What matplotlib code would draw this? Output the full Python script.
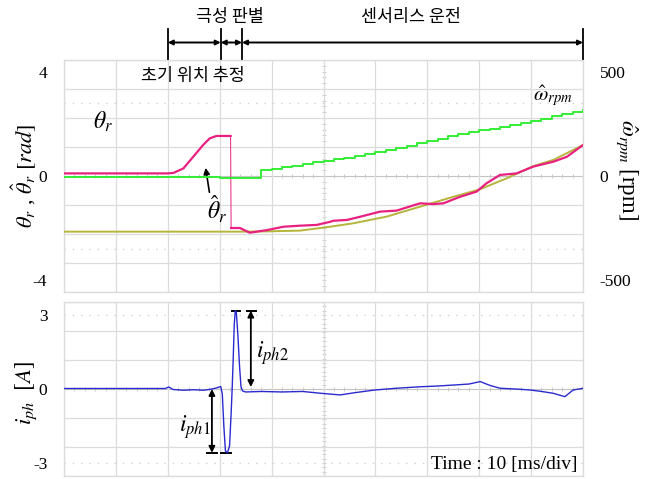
import matplotlib
matplotlib.use("Agg")
import matplotlib.pyplot as plt
import matplotlib.transforms as mtransforms
import numpy as np

plt.rcParams['font.family'] = ['Liberation Serif', 'DejaVu Serif']
plt.rcParams['mathtext.fontset'] = 'stix'

KFONT = ['Noto Sans CJK KR', 'DejaVu Sans']

# ---------------- data (time in ms, 10 ms/div) ----------------
t_theta_hat = [0, 20, 21.1, 23, 24.9, 26.8, 28.1, 29.4, 32.1, 32.2, 32.6, 33.9, 35.8, 39.1, 42.3,
               45.5, 48.7, 51.3, 51.9, 54.5, 57.0, 60.9, 64.1, 68.6, 71.2, 73.1, 76.3, 79.5,
               81.4, 84.0, 87.2, 90.4, 94.3, 96.9, 100]
theta_hat = [0.10, 0.10, 0.12, 0.29, 0.74, 1.19, 1.45, 1.54, 1.54, -2.0, -2.0, -2.0, -2.18, -2.08,
             -1.95, -1.91, -1.88, -1.76, -1.72, -1.69, -1.57, -1.37, -1.33, -1.05, -1.08, -1.05,
             -0.80, -0.60, -0.28, 0.04, 0.10, 0.36, 0.55, 0.74, 1.19]
drop_index = 8  # sample after which the estimate jumps

t_theta = [0, 34, 39.1, 45.5, 51.3, 55.7, 62.2, 68.6, 75.0, 80.0, 85.3, 90.4, 94.3, 98.1, 100]
theta = [-2.14, -2.14, -2.13, -2.10, -1.95, -1.82, -1.56, -1.18, -0.80, -0.52, -0.09, 0.38,
         0.62, 1.0, 1.19]

t_omega = [0, 30, 38, 40, 42, 44, 46, 48, 50, 52, 54, 56, 58, 60, 62, 64, 66, 68, 70, 72, 74,
           76, 78, 80, 82, 84, 86, 88, 90, 92, 94, 96, 98, 100]
omega_rpm = [-3, -11, 29, 36, 42, 50, 58, 66, 74, 82, 88, 95, 104, 114, 124, 134, 146, 158, 170,
             180, 190, 200, 210, 220, 228, 236, 245, 253, 262, 275, 290, 298, 308, 317]

t_iph = [0, 19.5, 20.2, 21, 23, 25, 27, 28.5, 29.5, 30.2, 30.5, 30.8, 31.1, 31.5, 31.9, 32.2,
         32.4, 32.6, 32.8, 33.0, 33.2, 33.5, 33.8, 34.1, 34.4, 35, 38, 42, 46, 49.3, 53.2, 56,
         59.9, 64, 68.6, 72, 75.0, 78, 80.2, 82, 84.0, 87, 89.8, 92, 94.2, 96.5, 98.1, 100]
iph = [0.02, 0.02, 0.08, -0.02, -0.05, -0.03, -0.05, 0.0, 0.05, 0.1, -0.2, -1.5, -2.5, -2.58,
       -2.3, -1.0, 0.0, 1.2, 2.6, 3.17, 3.1, 2.2, 1.0, 0.1, -0.08, -0.12, -0.1, -0.12, -0.1,
       -0.17, -0.24, -0.15, -0.04, 0.03, 0.09, 0.12, 0.16, 0.2, 0.30, 0.15, 0.03, 0.0, -0.04,
       -0.1, -0.17, -0.31, -0.04, 0.03]

left_ticks = [-4, 0, 4]
right_ticks = [-500, 0, 500]
cur_ticks = [-3, 0, 3]

# ---------------- figure ----------------
W, H = 651, 479
fig = plt.figure(figsize=(W / 100, H / 100), dpi=100)

def px_axes(x0, y0, x1, y1):
    return fig.add_axes([x0 / W, 1 - y1 / H, (x1 - x0) / W, (y1 - y0) / H])

ax1 = px_axes(64, 60, 583, 292)
ax2 = px_axes(64, 302, 583, 476)

GRID = '#dcdcdc'
YL1 = 4.46
YL2 = 3.52

def style(ax, ylim, ticks, dotted_y, ndiv):
    ax.set_xlim(0, 100)
    ax.set_ylim(-ylim, ylim)
    ax.set_xticks(np.linspace(0, 100, 11), minor=True)
    ax.set_xticks([])
    ax.set_yticks(ticks)
    ax.set_yticks(np.linspace(-ylim, ylim, ndiv + 1), minor=True)
    ax.grid(which='minor', color=GRID, lw=0.9)
    ax.tick_params(which='both', length=0)
    ax.tick_params(axis='y', labelsize=12.5, pad=12)
    for s in ax.spines.values():
        s.set_color(GRID)
        s.set_linewidth(1.0)
    # centre cross lines with small tick marks
    ax.axhline(0, color='#c4c4c4', lw=0.8, zorder=1)
    ax.axvline(50, color='#c4c4c4', lw=0.8, zorder=1)
    ax.plot(np.arange(0, 100.1, 2), np.zeros(51), ls='none', marker='|', ms=3,
            color='#c4c4c4', mew=0.6, zorder=1)
    ax.plot(np.full(41, 50), np.linspace(-ylim, ylim, 41), ls='none', marker='_', ms=3,
            color='#c4c4c4', mew=0.6, zorder=1)
    for yv in dotted_y:
        ax.axhline(yv, color='#d0d0d0', lw=1.0, ls=(0, (1, 5)), zorder=1)

style(ax1, YL1, left_ticks, [2.8, -2.8], 8)
style(ax2, YL2, cur_ticks, [3.0, -3.0], 6)
ax1.set_yticklabels(['-4', '0', '4'])
ax2.set_yticklabels(['-3', '0', '3'])

# right axis
ax1r = ax1.twinx()
ax1r.set_ylim(-YL1 * 125, YL1 * 125)
ax1r.set_yticks(right_ticks)
ax1r.set_yticklabels(['-500', '0', '500'])
ax1r.tick_params(length=0, labelsize=12.5, pad=12)
for s in ax1r.spines.values():
    s.set_visible(False)

# traces
ax1.plot(t_theta, theta, color='#b5b53c', lw=1.4, zorder=3)
ax1r.plot(t_omega, omega_rpm, color='#33ee33', lw=1.4, drawstyle='steps-post', zorder=3)
ax1.plot(t_theta_hat[:drop_index + 1], theta_hat[:drop_index + 1], color='#e8207f', lw=1.6,
         zorder=4)
ax1.plot(t_theta_hat[drop_index:drop_index + 2], theta_hat[drop_index:drop_index + 2],
         color='#e8207f', lw=0.7, zorder=4)
ax1.plot(t_theta_hat[drop_index + 1:], theta_hat[drop_index + 1:], color='#e8207f', lw=1.6,
         zorder=4)
ax2.plot(t_iph, iph, color='#2a2ad0', lw=1.0, zorder=3)

# axis labels
ax1.set_ylabel(r'$\theta_r$ , $\hat{\theta}_r$ $[rad]$', fontsize=16, va='center')
ax1.yaxis.set_label_coords((24 - 64) / 519, 0.5)
ax1r.set_ylabel(r'$\hat{\omega}_{rpm}$ [rpm]', fontsize=16.5, rotation=270, va='center')
ax1r.yaxis.set_label_coords((626 - 64) / 519, 0.53)
ax2.set_ylabel(r'$i_{ph}$  $[A]$', fontsize=16.5, va='center')
ax2.yaxis.set_label_coords((26 - 64) / 519, 0.48)

# top panel annotations
ax1.text(7.5, 2.08, r'$\theta_r$', fontsize=17, ha='center', va='center')
ax1.text(29.5, -1.3, r'$\hat{\theta}_r$', fontsize=17, ha='center', va='center')
ax1.annotate('', xy=(27.2, 0.42), xytext=(28.1, -0.73),
             arrowprops=dict(arrowstyle='-|>', color='black', lw=1.2, mutation_scale=9))
ax1.text(94.2, 3.04, r'$\hat{\omega}_{rpm}$', fontsize=15, ha='center', va='center')
ax1.text(24.9, 3.85, '초기 위치 추정', fontsize=12.5, family=KFONT, ha='center', va='center')

# phase annotations above the plot
trans = mtransforms.blended_transform_factory(ax1.transData, fig.transFigure)
phase_edges = [20, 30.2, 34.3, 100]
y_arrow = 1 - 42.5 / H
for xe in phase_edges:
    fig.add_artist(plt.Line2D([xe, xe], [1 - 29 / H, 1 - 59 / H], transform=trans,
                              color='black', lw=1.3))
for a, b in zip(phase_edges[:-1], phase_edges[1:]):
    ax1.annotate('', xy=(b, y_arrow), xytext=(a, y_arrow), xycoords=trans, textcoords=trans,
                 arrowprops=dict(arrowstyle='<|-|>', color='black', lw=1.4,
                                 mutation_scale=7, shrinkA=0, shrinkB=0),
                 annotation_clip=False)
fig.text(230 / W, 1 - 17 / H, '극성 판별', fontsize=12.5, family=KFONT, ha='center', va='center')
fig.text(411 / W, 1 - 17 / H, '센서리스 운전', fontsize=12.5, family=KFONT, ha='center', va='center')

# current annotations
ax2.annotate('', xy=(28.5, -2.58), xytext=(28.5, 0.0),
             arrowprops=dict(arrowstyle='<|-|>', color='black', lw=1.3, mutation_scale=9,
                             shrinkA=0, shrinkB=0))
ax2.plot([27.6, 29.5], [-2.58, -2.58], color='black', lw=1.4)
ax2.plot([30.3, 32.2], [-2.58, -2.58], color='black', lw=1.4)
ax2.annotate('', xy=(36.0, 3.17), xytext=(36.0, 0.08),
             arrowprops=dict(arrowstyle='<|-|>', color='black', lw=1.3, mutation_scale=9,
                             shrinkA=0, shrinkB=0))
ax2.plot([32.4, 33.9], [3.17, 3.17], color='black', lw=1.4)
ax2.plot([35.3, 37.0], [3.17, 3.17], color='black', lw=1.4)
ax2.text(25.2, -1.54, r'$i_{ph1}$', fontsize=17, ha='center', va='center')
ax2.text(40.1, 1.46, r'$i_{ph2}$', fontsize=17, ha='center', va='center')
ax2.text(99, -3.05, 'Time : 10 [ms/div]', fontsize=14, ha='right', va='center')

fig.savefig('out.png', dpi=100)
